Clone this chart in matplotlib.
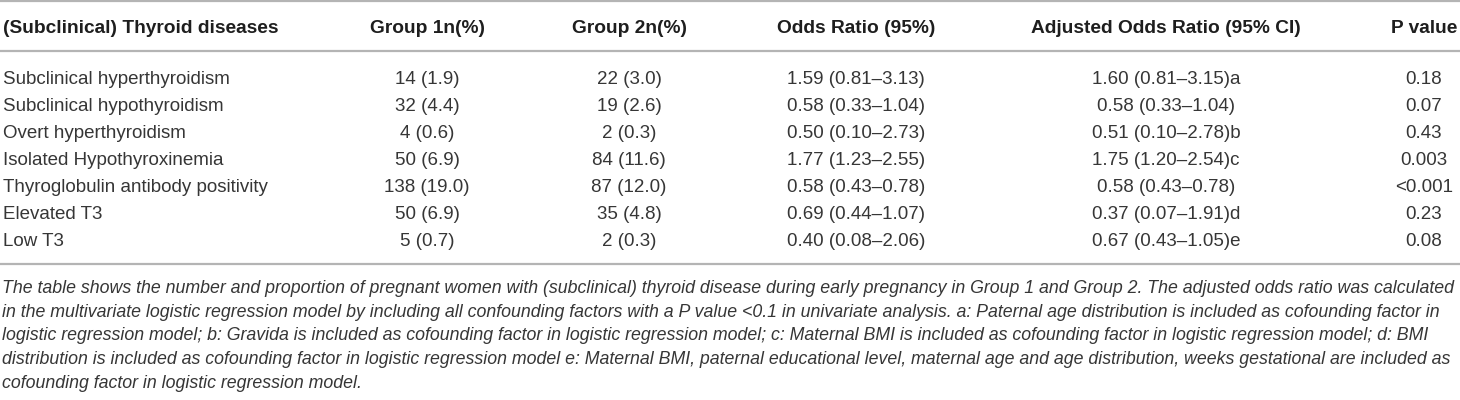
import matplotlib
matplotlib.use("Agg")
import matplotlib.pyplot as plt

# table contents
headers = ["(Subclinical) Thyroid diseases", "Group 1n(%)", "Group 2n(%)",
           "Odds Ratio (95%)", "Adjusted Odds Ratio (95% CI)", "P value"]
diseases = ["Subclinical hyperthyroidism", "Subclinical hypothyroidism",
            "Overt hyperthyroidism", "Isolated Hypothyroxinemia",
            "Thyroglobulin antibody positivity", "Elevated T3", "Low T3"]
group1 = ["14 (1.9)", "32 (4.4)", "4 (0.6)", "50 (6.9)", "138 (19.0)", "50 (6.9)", "5 (0.7)"]
group2 = ["22 (3.0)", "19 (2.6)", "2 (0.3)", "84 (11.6)", "87 (12.0)", "35 (4.8)", "2 (0.3)"]
odds = ["1.59 (0.81\u20133.13)", "0.58 (0.33\u20131.04)", "0.50 (0.10\u20132.73)",
        "1.77 (1.23\u20132.55)", "0.58 (0.43\u20130.78)", "0.69 (0.44\u20131.07)",
        "0.40 (0.08\u20132.06)"]
adjusted = ["1.60 (0.81\u20133.15)a", "0.58 (0.33\u20131.04)", "0.51 (0.10\u20132.78)b",
            "1.75 (1.20\u20132.54)c", "0.58 (0.43\u20130.78)", "0.37 (0.07\u20131.91)d",
            "0.67 (0.43\u20131.05)e"]
pvalues = ["0.18", "0.07", "0.43", "0.003", "<0.001", "0.23", "0.08"]
footnote = [
    "The table shows the number and proportion of pregnant women with (subclinical) thyroid disease during early pregnancy in Group 1 and Group 2. The adjusted odds ratio was calculated",
    "in the multivariate logistic regression model by including all confounding factors with a P value <0.1 in univariate analysis. a: Paternal age distribution is included as cofounding factor in",
    "logistic regression model; b: Gravida is included as cofounding factor in logistic regression model; c: Maternal BMI is included as cofounding factor in logistic regression model; d: BMI",
    "distribution is included as cofounding factor in logistic regression model e: Maternal BMI, paternal educational level, maternal age and age distribution, weeks gestational are included as",
    "cofounding factor in logistic regression model.",
]

W, H = 1460, 400
fig = plt.figure(figsize=(W / 100, H / 100), dpi=100)
ax = fig.add_axes([0, 0, 1, 1])
ax.set_xlim(0, W)
ax.set_ylim(H, 0)
ax.axis("off")

font = "Liberation Sans"
rule = "#b4b4b4"
body = "#363636"

# column anchors (pixels)
col_x = [3, 427, 629, 856, 1166, 1424]
col_ha = ["left", "center", "center", "center", "center", "center"]
header_y = 26
row_y0, row_dy = 77, 27
half_cap = 6.8  # baseline sits this far below the row centre

for x, ha, h in zip(col_x, col_ha, headers):
    ax.text(x, header_y + half_cap, h, ha=ha, va="baseline", fontsize=13.8,
            fontweight="bold", family=font, color="#1e1e1e")

columns = [diseases, group1, group2, odds, adjusted, pvalues]
for x, ha, col in zip(col_x, col_ha, columns):
    for i, val in enumerate(col):
        ax.text(x, row_y0 + i * row_dy + half_cap, val, ha=ha, va="baseline",
                fontsize=13.5, family=font, color=body)

for y in [1, 51, 264]:
    ax.plot([0, W], [y, y], color=rule, lw=1.6, solid_capstyle="butt")

# footnote, sized so the first line spans the width
fn_y0, fn_dy = 287, 23.7
fn_texts = []
for i, line in enumerate(footnote):
    t = ax.text(2, fn_y0 + i * fn_dy + 6, line, ha="left", va="baseline",
                fontsize=12, style="italic", family=font, color=body)
    fn_texts.append(t)

fig.canvas.draw()
r = fig.canvas.get_renderer()
w0 = fn_texts[0].get_window_extent(r).width
size = 12 * 1450 / w0
for t in fn_texts:
    t.set_fontsize(size)

fig.savefig("out.png", dpi=100)
